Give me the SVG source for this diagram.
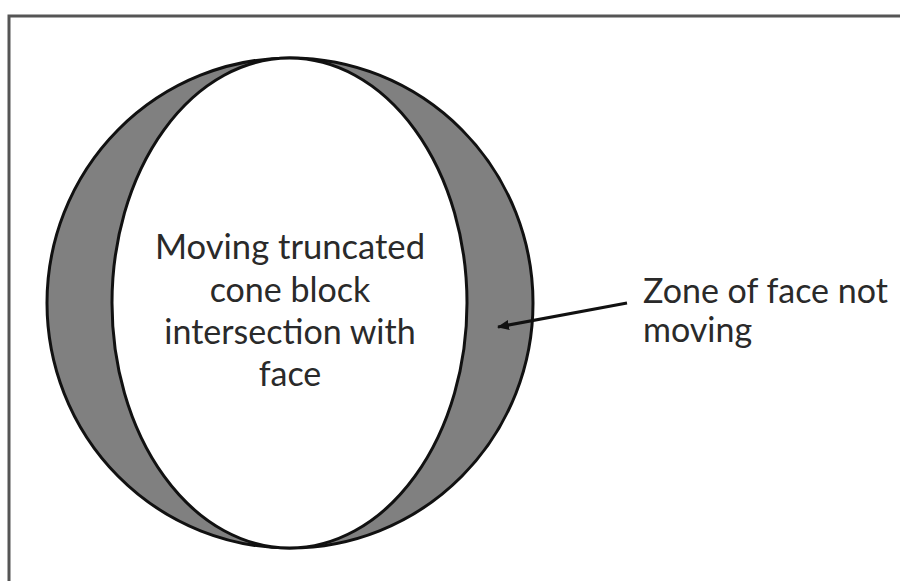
<svg xmlns="http://www.w3.org/2000/svg" width="900" height="581" viewBox="0 0 900 581">
<defs>
<style>
.lbl{font-family:Lato,"Open Sans",sans-serif;font-size:34px;fill:#2a2a2a}
.edge{stroke:#111;stroke-width:3}
</style>
<marker id="ah" markerWidth="12" markerHeight="10" refX="11" refY="5" orient="auto" markerUnits="userSpaceOnUse">
<path d="M0,0 L12,5 L0,10 Z" fill="#111"/>
</marker>
</defs>
<rect width="900" height="581" fill="#fff"/>
<rect id="frame" x="9" y="16" width="900" height="580" fill="none" stroke="#555" stroke-width="3"/>
<g id="zone">
<ellipse cx="290" cy="303" rx="243" ry="245" fill="#808080" class="edge"/>
</g>
<g id="block">
<ellipse cx="289.5" cy="303" rx="177.5" ry="245" fill="#fff" class="edge"/>
<text class="lbl" text-anchor="middle" x="290" y="259" textLength="270" lengthAdjust="spacingAndGlyphs">Moving truncated</text>
<text class="lbl" text-anchor="middle" x="290" y="302">cone block</text>
<text class="lbl" text-anchor="middle" x="290" y="344">intersection with</text>
<text class="lbl" text-anchor="middle" x="290" y="386">face</text>
</g>
<g id="label">
<text class="lbl" x="643" y="303">Zone of face not</text>
<text class="lbl" x="643" y="342">moving</text>
</g>
<g id="connectors">
<line x1="627" y1="303" x2="498" y2="327" stroke="#111" stroke-width="3" marker-end="url(#ah)"/>
</g>
</svg>
